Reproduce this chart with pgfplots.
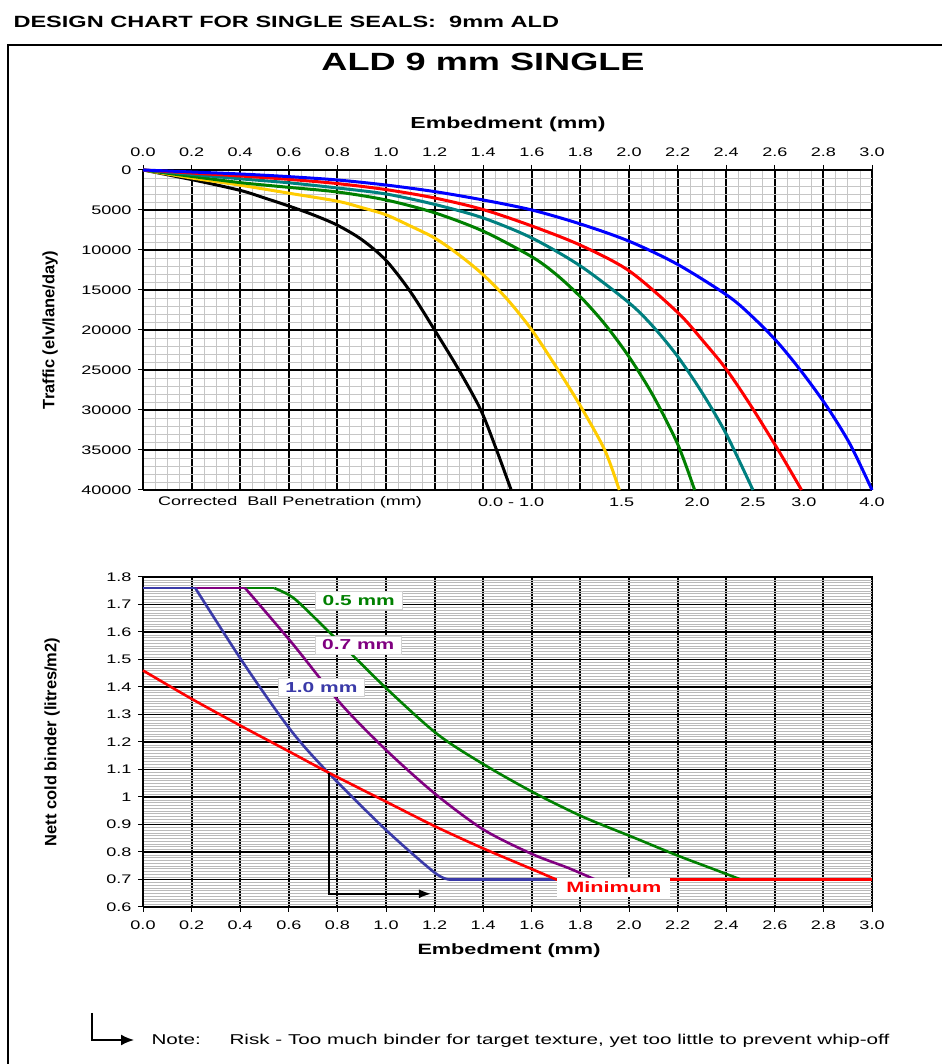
\documentclass[border=0pt]{standalone}
\usepackage{fontspec}
\setmainfont{Liberation Sans}[FakeStretch=1.45]
\newfontfamily\rotfont{Liberation Sans}
\usepackage{pgfplots}
\pgfplotsset{compat=1.18}
\usetikzlibrary{arrows.meta}
\definecolor{cyel}{HTML}{FFCC00}
\definecolor{cgrn}{HTML}{008000}
\definecolor{cteal}{HTML}{008080}
\definecolor{cred}{HTML}{FF0000}
\definecolor{cblue}{HTML}{0000FF}
\definecolor{cpur}{HTML}{800080}
\definecolor{cslate}{HTML}{3A3AA8}
\pgfplotsset{
  /pgf/number format/assume math mode=true,
  common/.style={
    scale only axis, width=729bp, clip=false,
    xmin=0, xmax=3,
    xtick={0,0.2,0.4,0.6,0.8,1.0,1.2,1.4,1.6,1.8,2.0,2.2,2.4,2.6,2.8,3.0},
    xticklabel={\pgfmathprintnumber[fixed,fixed zerofill,precision=1]{\tick}},
    tick label style={font=\fontsize{12.5}{14}\selectfont},
    yticklabel style={xshift=-3bp},
    axis line style={black, line width=1bp},
    tick style={black, line width=1bp},
    major tick length=5bp, minor tick length=0pt, tick align=outside,
    grid=both,
  }
}
\begin{document}
\begin{tikzpicture}[x=1bp,y=1bp]
\useasboundingbox (0,0) rectangle (942,1064);
\draw[line width=2.5bp] (8,-5) -- (8,1019) -- (947,1019);
\node[anchor=base west, font=\fontsize{16.3}{18}\selectfont\bfseries] at (10,1036) {DESIGN CHART FOR SINGLE SEALS:\ \ 9mm ALD};
\node[font=\fontsize{25}{28}\selectfont\bfseries] at (483,1002) {ALD 9 mm SINGLE};
\node[font=\fontsize{16}{18}\selectfont\bfseries] at (508,940) {Embedment (mm)};
\node[font=\fontsize{15}{17}\selectfont\bfseries] at (509,113) {Embedment (mm)};
\node[rotate=90, font=\rotfont\fontsize{16.5}{18}\selectfont\bfseries] at (50,734) {Traffic (elv/lane/day)};
\node[rotate=90, font=\rotfont\fontsize{16.5}{18}\selectfont\bfseries] at (52,322) {Nett cold binder (litres/m2)};

% ---------- top chart ----------
\begin{axis}[common, at={(143bp,574bp)}, anchor=south west, height=320bp,
  ymin=0, ymax=40000, y dir=reverse, scaled y ticks=false,
  ytick={0,5000,10000,15000,20000,25000,30000,35000,40000},
  yticklabel style={/pgf/number format/1000 sep={}},
  xticklabel style={yshift=5bp},
  minor x tick num=3, minor y tick num=4,
  xtick pos=right, xticklabel pos=right, ytick pos=left,
  major grid style={black, line width=2bp},
  minor grid style={gray!45, line width=0.5bp},
]
\addplot[black, line width=3bp, smooth] coordinates {
(0,0) (0.2,1200) (0.4,2550) (0.5,3500) (0.6,4500) (0.7,5600) (0.8,6900) (0.9,8700) (1.0,11300) (1.1,15200) (1.2,20000) (1.3,25000) (1.39,30000) (1.455,35000) (1.515,40000)};
\addplot[cyel, line width=3bp, smooth] coordinates {
(0,0) (0.2,1000) (0.4,1900) (0.6,2900) (0.8,3900) (0.9,4700) (1.0,5600) (1.1,7000) (1.2,8500) (1.3,10600) (1.4,13100) (1.5,16200) (1.6,20000) (1.7,24600) (1.8,29500) (1.9,35000) (1.96,40000)};
\addplot[cgrn, line width=3bp, smooth] coordinates {
(0,0) (0.2,800) (0.4,1580) (0.6,2170) (0.8,2750) (1.0,3750) (1.2,5350) (1.4,7650) (1.6,10850) (1.7,13050) (1.8,15850) (1.9,19250) (2.0,23350) (2.1,28250) (2.2,34250) (2.27,40000)};
\addplot[cteal, line width=3bp, smooth] coordinates {
(0,0) (0.2,550) (0.4,1100) (0.6,1600) (0.8,2250) (1.0,3000) (1.2,4300) (1.4,6000) (1.6,8500) (1.8,12000) (2.0,16600) (2.1,19600) (2.2,23300) (2.3,27800) (2.4,33000) (2.51,40000)};
\addplot[cred, line width=3bp, smooth] coordinates {
(0,0) (0.2,380) (0.4,750) (0.6,1170) (0.8,1700) (1.0,2450) (1.2,3500) (1.4,4950) (1.6,7000) (1.8,9400) (2.0,12600) (2.2,17800) (2.3,21200) (2.4,24900) (2.5,29400) (2.614,35000) (2.71,40000)};
\addplot[cblue, line width=3bp, smooth] coordinates {
(0,0) (0.2,250) (0.4,500) (0.6,830) (0.8,1250) (1.0,1880) (1.2,2700) (1.4,3750) (1.6,5000) (1.8,6750) (2.0,8900) (2.2,11800) (2.41,15800) (2.52,18700) (2.615,21660) (2.715,25400) (2.815,29600) (2.91,34300) (3.0,40000)};
\begin{scope}[font=\fontsize{12.5}{14}\selectfont]
\node[yshift=-12bp] at (axis cs:0.605,40000) {Corrected\ \ Ball Penetration (mm)};
\node[yshift=-12bp] at (axis cs:1.515,40000) {0.0 - 1.0};
\node[yshift=-12bp] at (axis cs:1.97,40000) {1.5};
\node[yshift=-12bp] at (axis cs:2.28,40000) {2.0};
\node[yshift=-12bp] at (axis cs:2.51,40000) {2.5};
\node[yshift=-12bp] at (axis cs:2.72,40000) {3.0};
\node[yshift=-12bp] at (axis cs:3.0,40000) {4.0};
\end{scope}
\end{axis}

% ---------- bottom chart ----------
\begin{axis}[common, at={(143bp,157bp)}, anchor=south west, height=330bp,
  ymin=0.6, ymax=1.8,
  ytick={0.6,0.7,0.8,0.9,1.0,1.1,1.2,1.3,1.4,1.5,1.6,1.7,1.8},
  yticklabels={0.6,0.7,0.8,0.9,1,1.1,1.2,1.3,1.4,1.5,1.6,1.7,1.8},
  xticklabel style={yshift=-5bp},
  minor y tick num=9,
  xtick pos=left, ytick pos=left,
  major x grid style={black, line width=2bp},
  major y grid style={black, line width=1.2bp},
  minor y grid style={gray!55, line width=0.45bp},
]
% 0.5 mm
\addplot[cgrn, line width=2.6bp] coordinates {(0,1.76) (0.54,1.76)};
\addplot[cgrn, line width=2.6bp, smooth] coordinates {
(0.54,1.76) (0.6,1.735) (0.65,1.70) (0.813,1.559) (1.005,1.392) (1.212,1.228) (1.405,1.117) (1.61,1.015) (1.81,0.928) (2.01,0.856) (2.2,0.787) (2.35,0.737) (2.46,0.70)};
% 0.7 mm
\addplot[cpur, line width=2.6bp] coordinates {(0,1.76) (0.42,1.76)};
\addplot[cpur, line width=2.6bp, smooth] coordinates {
(0.42,1.76) (0.614,1.559) (0.813,1.34) (1.0,1.171) (1.2,1.013) (1.4,0.882) (1.6,0.793) (1.75,0.742) (1.86,0.70)};
% 1.0 mm
\addplot[cslate, line width=2.6bp] coordinates {(0,1.76) (0.215,1.76)};
\addplot[cslate, line width=2.6bp, smooth] coordinates {
(0.215,1.76) (0.414,1.486) (0.607,1.244) (0.765,1.086) (1.0,0.88) (1.2,0.725) (1.26,0.70)};
\addplot[cslate, line width=2.6bp] coordinates {(1.26,0.70) (1.70,0.70)};
% minimum
\addplot[cred, line width=2.6bp, smooth] coordinates {
(0,1.46) (0.2,1.357) (0.4,1.26) (0.6,1.166) (0.765,1.088) (1.0,0.983) (1.2,0.894) (1.4,0.813) (1.6,0.738) (1.70,0.70)};
\addplot[cred, line width=2.6bp] coordinates {(1.70,0.70) (3.0,0.70)};
\draw[black, line width=1.5bp, -{Latex[length=12bp,width=9bp]}] (axis cs:0.765,1.086) |- (axis cs:1.185,0.648);
\node[fill=white, draw=gray!35, text=cgrn, font=\fontsize{14.5}{16}\selectfont\bfseries, inner xsep=7bp, inner ysep=4bp] at (axis cs:0.888,1.716) {0.5 mm};
\node[fill=white, draw=gray!35, text=cpur, font=\fontsize{14.5}{16}\selectfont\bfseries, inner xsep=7bp, inner ysep=4bp] at (axis cs:0.886,1.553) {0.7 mm};
\node[fill=white, draw=gray!35, text=cslate, font=\fontsize{14.5}{16}\selectfont\bfseries, inner xsep=7bp, inner ysep=4bp] at (axis cs:0.734,1.398) {1.0 mm};
\node[fill=white, text=cred, font=\fontsize{15}{17}\selectfont\bfseries, inner xsep=9bp, inner ysep=4bp] at (axis cs:1.938,0.671) {Minimum};
\end{axis}

% ---------- note ----------
\draw[black, line width=1.8bp, -{Latex[length=13bp,width=11bp]}] (92,51) -- (92,24) -- (134,24);
\node[anchor=base west, font=\fontsize{14.3}{16}\selectfont] at (148,19) {Note:};
\node[anchor=base west, font=\fontsize{14.3}{16}\selectfont] at (226,19) {Risk - Too much binder for target texture, yet too little to prevent whip-off};
\end{tikzpicture}
\end{document}
